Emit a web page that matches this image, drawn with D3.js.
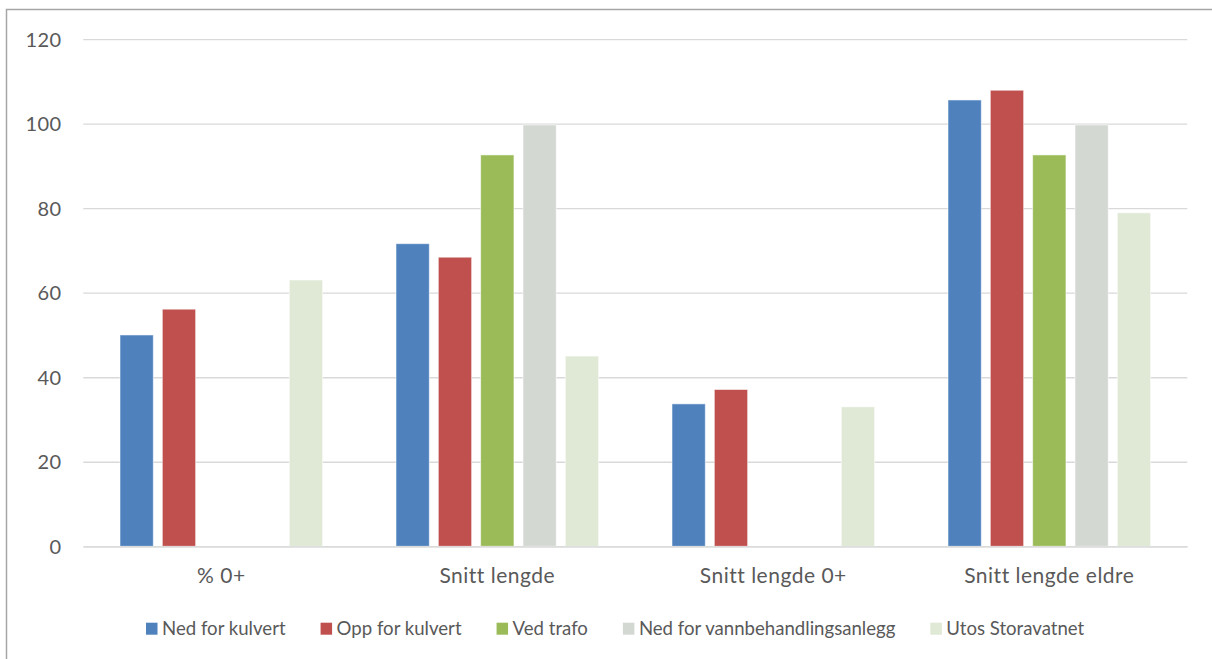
<!DOCTYPE html>
<html>
<head>
<meta charset="utf-8">
<script src="https://cdn.jsdelivr.net/npm/d3@7"></script>
<style>
  html, body { margin: 0; padding: 0; background: #fff; }
  svg { display: block; }
  text { font-family: Lato, "Open Sans", sans-serif; fill: #595959; }
</style>
</head>
<body>
<svg id="chart" width="1212" height="659"></svg>
<script>
const categories = ["% 0+", "Snitt lengde", "Snitt lengde 0+", "Snitt lengde eldre"];
const seriesNames = ["Ned for kulvert", "Opp for kulvert", "Ved trafo", "Ned for vannbehandlingsanlegg", "Utos Storavatnet"];
const nedForKulvert = [50, 71.6, 33.7, 105.6];
const oppForKulvert = [56.1, 68.4, 37.1, 107.9];
const vedTrafo = [null, 92.6, null, 92.6];
const nedForVannbehandlingsanlegg = [null, 99.7, null, 99.7];
const utosStoravatnet = [63, 45, 33, 78.9];
const yTicks = [0, 20, 40, 60, 80, 100, 120];
const colors = ["#4F81BD", "#C0504D", "#9BBB59", "#D4D8D3", "#DFE9D5"];

const seriesValues = [nedForKulvert, oppForKulvert, vedTrafo, nedForVannbehandlingsanlegg, utosStoravatnet];

const svg = d3.select("#chart");
const plot = { left: 83.3, right: 1187.3, top: 39.1, bottom: 546.3 };

// outer border (right and bottom edges fall outside the picture)
svg.append("rect")
  .attr("x", 6.5).attr("y", 9.5)
  .attr("width", 1300).attr("height", 800)
  .attr("fill", "none").attr("stroke", "#A6A6A6").attr("stroke-width", 1.5);

const y = d3.scaleLinear().domain([0, 120]).range([plot.bottom, plot.top]);
const x0 = d3.scaleBand().domain(categories).range([plot.left, plot.right]).padding(0);
const outer = 36.7;
const x1 = d3.scaleBand().domain(seriesNames)
  .range([outer, x0.bandwidth() - outer]).paddingInner(0.213).paddingOuter(0);

// gridlines
const yAxis = d3.axisLeft(y).tickValues(yTicks).tickSize(-(plot.right - plot.left)).tickPadding(22);
const gy = svg.append("g").attr("transform", `translate(${plot.left},0)`).call(yAxis);
gy.select(".domain").remove();
gy.selectAll(".tick line").attr("stroke", "#D9D9D9").attr("stroke-width", 1.3);
gy.selectAll(".tick text").attr("font-size", 20).attr("fill", "#595959")
  .attr("font-family", "Lato, 'Open Sans', sans-serif").attr("dy", "0.36em")
  .attr("letter-spacing", "0.3px");

// bars
const groups = svg.append("g").selectAll("g").data(categories).join("g")
  .attr("transform", d => `translate(${x0(d)},0)`);
groups.selectAll("rect")
  .data((c, ci) => seriesNames.map((s, si) => ({ s, si, v: seriesValues[si][ci] })).filter(d => d.v != null))
  .join("rect")
  .attr("x", d => x1(d.s))
  .attr("width", x1.bandwidth())
  .attr("y", d => y(d.v))
  .attr("height", d => y(0) - y(d.v))
  .attr("fill", d => colors[d.si])
  .attr("stroke", "#fff").attr("stroke-opacity", 0.55).attr("stroke-width", 1);

// x axis
const xAxis = d3.axisBottom(x0).tickSize(0).tickPadding(22);
const gx = svg.append("g").attr("transform", `translate(0,${plot.bottom})`).call(xAxis);
gx.select(".domain").attr("stroke", "#D9D9D9").attr("stroke-width", 1.3);
gx.selectAll(".tick text").attr("font-size", 21).attr("fill", "#595959")
  .attr("font-family", "Lato, 'Open Sans', sans-serif")
  .attr("letter-spacing", "0.5px");

// legend
const legend = svg.append("g");
let lx = 146;
const ly = 628.7;
seriesNames.forEach((name, i) => {
  legend.append("rect").attr("x", lx).attr("y", ly - 6).attr("width", 11.5).attr("height", 12).attr("fill", colors[i]);
  const t = legend.append("text").attr("x", lx + 16).attr("y", ly).attr("dy", "0.35em")
    .attr("font-size", 18.6).text(name);
  const w = t.node().getComputedTextLength();
  lx = lx + 16 + w + 35;
});
</script>
</body>
</html>
